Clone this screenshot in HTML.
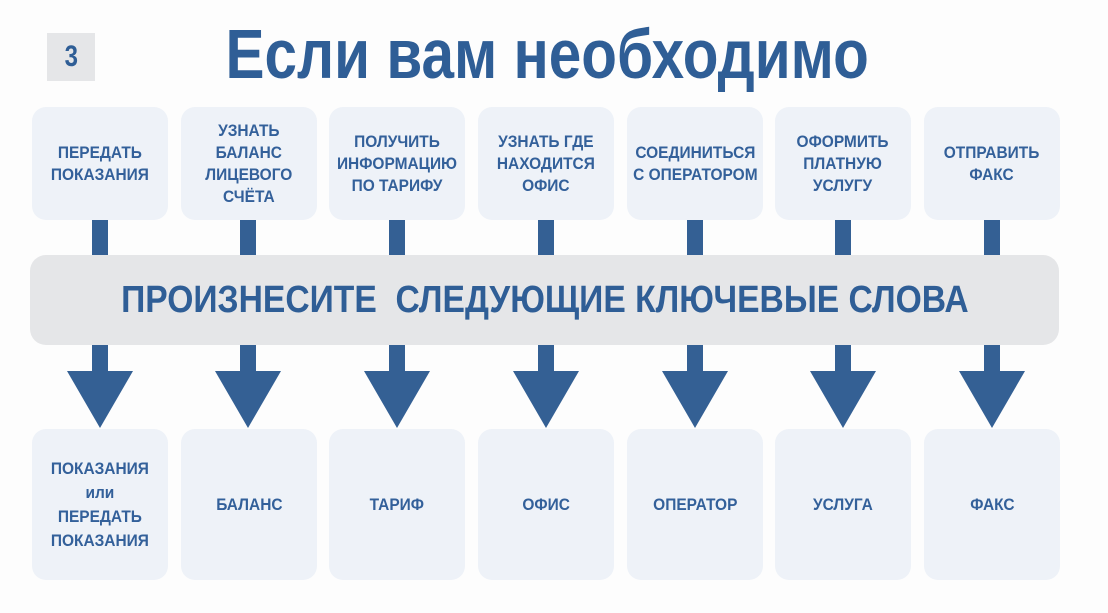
<!DOCTYPE html>
<html><head><meta charset="utf-8">
<style>
*{margin:0;padding:0;box-sizing:border-box}
body{width:1108px;height:613px;background:#fdfdfd;position:relative;overflow:hidden;font-family:"Liberation Sans","DejaVu Sans",sans-serif;color:#33609a;font-weight:bold}
.b{position:absolute;width:136px;background:#eef2f8;border-radius:14px;display:flex;align-items:center;justify-content:center;text-align:center}
.b span{display:block;font-size:17px;line-height:22px;transform:scaleX(0.91);white-space:nowrap}
.s{position:absolute;width:16px;background:#346094}
.t{position:absolute;width:0;height:0;border-left:33px solid transparent;border-right:33px solid transparent;border-top:57px solid #346094}
</style></head><body>
<div style="position:absolute;left:47px;top:33px;width:48px;height:48px;background:#e5e6e8;display:flex;align-items:center;justify-content:center;font-size:30px;color:#2f5e96"><span style="transform:scaleX(0.8)">3</span></div>
<div style="position:absolute;left:200px;top:18px;width:694px;height:72px;display:flex;align-items:center;justify-content:center"><span style="font-size:70px;color:#2f5e96;transform:scaleX(0.835);white-space:nowrap;display:block">Если вам необходимо</span></div>

<div class="b" style="left:32px;top:107px;height:113px"><span>ПЕРЕДАТЬ<br>ПОКАЗАНИЯ</span></div>
<div class="b" style="left:181px;top:107px;height:113px"><span>УЗНАТЬ<br>БАЛАНС<br>ЛИЦЕВОГО<br>СЧЁТА</span></div>
<div class="b" style="left:329px;top:107px;height:113px"><span>ПОЛУЧИТЬ<br>ИНФОРМАЦИЮ<br>ПО ТАРИФУ</span></div>
<div class="b" style="left:478px;top:107px;height:113px"><span>УЗНАТЬ ГДЕ<br>НАХОДИТСЯ<br>ОФИС</span></div>
<div class="b" style="left:627px;top:107px;height:113px"><span>СОЕДИНИТЬСЯ<br>С ОПЕРАТОРОМ</span></div>
<div class="b" style="left:775px;top:107px;height:113px"><span>ОФОРМИТЬ<br>ПЛАТНУЮ<br>УСЛУГУ</span></div>
<div class="b" style="left:924px;top:107px;height:113px"><span>ОТПРАВИТЬ<br>ФАКС</span></div>

<div class="s" style="left:92px;top:220px;height:36px"></div>
<div class="s" style="left:240px;top:220px;height:36px"></div>
<div class="s" style="left:389px;top:220px;height:36px"></div>
<div class="s" style="left:538px;top:220px;height:36px"></div>
<div class="s" style="left:687px;top:220px;height:36px"></div>
<div class="s" style="left:835px;top:220px;height:36px"></div>
<div class="s" style="left:984px;top:220px;height:36px"></div>

<div style="position:absolute;left:30px;top:255px;width:1029px;height:90px;background:#e5e6e8;border-radius:16px;display:flex;align-items:center;justify-content:center"><span style="font-size:38px;color:#2f5e96;transform:scaleX(0.885);white-space:nowrap;display:block">ПРОИЗНЕСИТЕ&nbsp; СЛЕДУЮЩИЕ КЛЮЧЕВЫЕ СЛОВА</span></div>

<div class="s" style="left:92px;top:345px;height:27px"></div>
<div class="s" style="left:240px;top:345px;height:27px"></div>
<div class="s" style="left:389px;top:345px;height:27px"></div>
<div class="s" style="left:538px;top:345px;height:27px"></div>
<div class="s" style="left:687px;top:345px;height:27px"></div>
<div class="s" style="left:835px;top:345px;height:27px"></div>
<div class="s" style="left:984px;top:345px;height:27px"></div>
<div class="t" style="left:67px;top:371px"></div>
<div class="t" style="left:215px;top:371px"></div>
<div class="t" style="left:364px;top:371px"></div>
<div class="t" style="left:513px;top:371px"></div>
<div class="t" style="left:662px;top:371px"></div>
<div class="t" style="left:810px;top:371px"></div>
<div class="t" style="left:959px;top:371px"></div>

<div class="b" style="left:32px;top:429px;height:151px"><span style="line-height:24px">ПОКАЗАНИЯ<br>или<br>ПЕРЕДАТЬ<br>ПОКАЗАНИЯ</span></div>
<div class="b" style="left:181px;top:429px;height:151px"><span>БАЛАНС</span></div>
<div class="b" style="left:329px;top:429px;height:151px"><span>ТАРИФ</span></div>
<div class="b" style="left:478px;top:429px;height:151px"><span>ОФИС</span></div>
<div class="b" style="left:627px;top:429px;height:151px"><span>ОПЕРАТОР</span></div>
<div class="b" style="left:775px;top:429px;height:151px"><span>УСЛУГА</span></div>
<div class="b" style="left:924px;top:429px;height:151px"><span>ФАКС</span></div>
</body></html>
